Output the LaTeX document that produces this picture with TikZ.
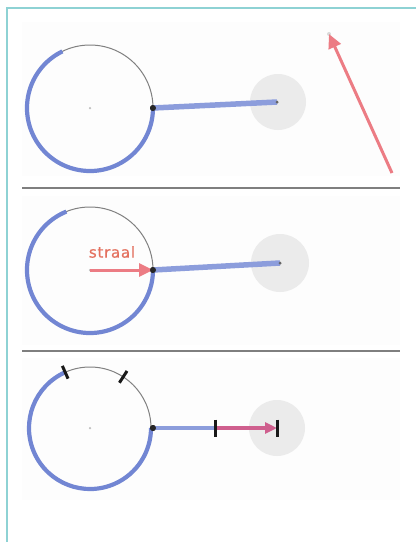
\documentclass[tikz,border=0pt]{standalone}
\usepackage{fontspec}
\usetikzlibrary{arrows.meta,calc}
\newfontfamily\labelfont{DejaVu Sans}[LetterSpace=5,FakeBold=0.6]
\definecolor{cyanb}{HTML}{8ED2D4}
\definecolor{bluec}{HTML}{7286D3}
\definecolor{bluel}{HTML}{8C9DDC}
\definecolor{redc}{HTML}{EC7C84}
\definecolor{labelc}{HTML}{E4705E}
\definecolor{magc}{HTML}{CF5F8E}
\definecolor{diskc}{HTML}{EBEBEB}
\definecolor{sepc}{HTML}{7F7F7F}
\definecolor{panelbg}{HTML}{FDFDFD}
\tikzset{
  thinarc/.style={draw=black!50, line width=1},
  bluearc/.style={draw=bluec, line width=4.2},
  ray/.style={draw=bluel, line width=5.5},
  shortray/.style={draw=bluel, line width=4.5},
  dot/.style={circle, fill=black!85, inner sep=0pt, minimum size=6pt},
  enddot/.style={circle, fill=black!60, inner sep=0pt, minimum size=3pt},
  ctr/.style={circle, fill=black!25, inner sep=0pt, minimum size=2.5pt},
  tipdot/.style={circle, fill=black!15, inner sep=0pt, minimum size=4pt},
  zone/.style={fill=diskc},
  sepline/.style={draw=sepc, line width=2.5},
  tickmark/.style={draw=black!90, line width=3},
  redarrow/.style={draw=redc, line width=3, -{Triangle[length=14pt,width=13pt]}},
  magarrow/.style={draw=magc, line width=3.5, -{Triangle[length=12pt,width=11pt]}},
}
\begin{document}
\begin{tikzpicture}[x=1pt,y=-1pt]
\useasboundingbox (0,0) rectangle (416,542);
\fill[white] (0,0) rectangle (416,542);
\fill[panelbg] (22,22) rectangle (400,176);
\fill[panelbg] (22,196) rectangle (400,345);
\fill[panelbg] (22,358) rectangle (400,500);
\draw[cyanb, line width=2] (7,542) -- (7,8) -- (416,8);
\draw[sepline] (22,188) -- (400,188);
\draw[sepline] (22,351) -- (400,351);

% panel 1
\coordinate (c1) at (90,108);
\fill[zone] (278,102) circle (28);
\draw[thinarc] (c1) circle (63);
\draw[bluearc] (c1) ++(-116:63) arc[start angle=-116, end angle=-360, radius=63];
\node[ctr] (o1) at (c1) {};
\node[dot] (p1) at (153,108) {};
\node[enddot] (e1) at (277,102) {};
\draw[ray] (p1.center) -- (e1.center);
\node[dot] at (p1) {};
\node[enddot] at (e1) {};
\coordinate (a1) at (392,173);
\node[tipdot] (t1) at (329,34) {};
\draw[redarrow] (a1) -- (t1.center);

% panel 2
\coordinate (c2) at (90,270);
\fill[zone] (280,263) circle (29);
\draw[thinarc] (c2) circle (63);
\draw[bluearc] (c2) ++(-112:63) arc[start angle=-112, end angle=-360, radius=63];
\node[ctr] (o2) at (c2) {};
\node[dot] (p2) at (153,270) {};
\node[enddot] (e2) at (280,263) {};
\draw[ray] (p2.center) -- (e2.center);
\draw[redarrow] (o2.center) -- (p2.center);
\node[dot] at (p2) {};
\node[enddot] at (e2) {};
\node[text=labelc, font=\labelfont\fontsize{15}{15}\selectfont] (lab) at (112,252) {straal};

% panel 3
\coordinate (c3) at (90,428);
\fill[zone] (277,428) circle (28);
\draw[thinarc] (c3) circle (61);
\draw[bluearc] (c3) ++(-114:61) arc[start angle=-114, end angle=-360, radius=61];
\draw[tickmark] ($(c3)+(-114:54)$) -- ($(c3)+(-114:68)$);
\draw[tickmark] ($(c3)+(-57:54)$) -- ($(c3)+(-57:68)$);
\node[ctr] (o3) at (c3) {};
\node[dot] (p3) at (153,428) {};
\coordinate (m3) at (215,428);
\coordinate (e3) at (277,428);
\draw[shortray] (p3.center) -- (m3);
\draw[magarrow] (m3) -- (e3);
\draw[tickmark] ($(m3)+(0,-8.5)$) -- ($(m3)+(0,8.5)$);
\draw[tickmark] ($(e3)+(0,-8.5)$) -- ($(e3)+(0,8.5)$);
\node[dot] at (p3) {};
\end{tikzpicture}
\end{document}
